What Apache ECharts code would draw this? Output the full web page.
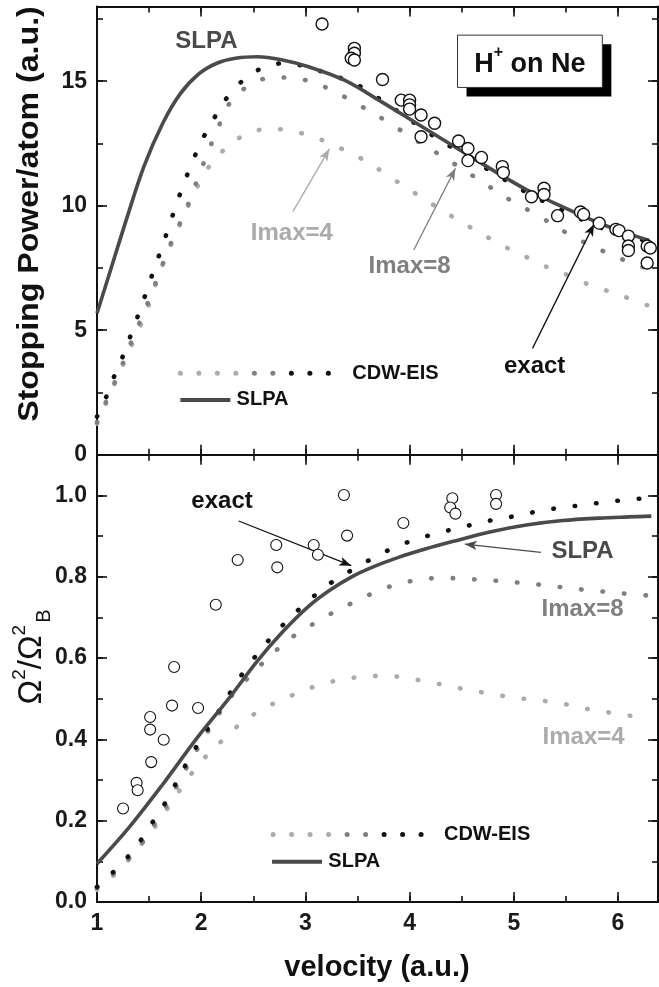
<!DOCTYPE html>
<html><head><meta charset="utf-8">
<script src="https://cdn.jsdelivr.net/npm/echarts@6/dist/echarts.min.js"></script>
<style>html,body{margin:0;padding:0;background:#fff}#c{width:659px;height:987px}</style>
</head><body><div id="c"></div>
<script>
// ---------- DATA (top panel: stopping power) ----------
const topSlpaV = [1.00,1.14,1.28,1.45,1.63,1.80,1.98,2.15,2.33,2.54,2.78,3.03,3.37,3.72,4.07,4.42,4.77,5.12,5.47,5.82,6.05,6.30];
const topSlpaS = [5.68,7.55,9.42,11.57,13.3,14.5,15.3,15.72,15.92,15.98,15.85,15.58,15.05,14.2,13.3,12.4,11.5,10.65,9.95,9.3,8.95,8.6];
const topExactV = [1.00,1.09,1.17,1.26,1.33,1.41,1.48,1.55,1.62,1.69,1.76,1.83,1.91,2.00,2.11,2.23,2.41,2.61,2.82,3.03,3.22,3.50,3.83,4.02,4.23,4.44,4.65,4.86,5.05,5.25,5.45,5.65,5.85,6.05,6.30];
const topExactS = [1.53,2.33,3.20,4.07,4.87,5.78,6.61,7.48,8.29,9.16,10.03,10.86,11.70,12.57,13.41,14.24,15.07,15.58,15.74,15.55,15.30,14.85,13.95,13.40,12.80,12.25,11.72,11.18,10.70,10.25,9.85,9.45,9.10,8.85,8.55];
const topL8V = [1.00,1.09,1.18,1.27,1.35,1.44,1.52,1.60,1.68,1.77,1.86,1.95,2.05,2.15,2.27,2.48,2.69,2.89,3.09,3.30,3.50,3.71,3.91,4.11,4.32,4.51,4.71,4.91,5.12,5.33,5.54,5.73,5.94,6.14,6.30];
const topL8S = [1.30,2.15,3.00,3.90,4.75,5.60,6.45,7.30,8.20,9.05,9.90,10.90,12.00,13.00,14.10,14.91,15.15,15.13,14.94,14.54,14.08,13.57,13.04,12.50,11.97,11.46,10.92,10.36,9.87,9.36,8.82,8.42,8.02,7.68,7.45];
const topL4V = [1.00,1.09,1.18,1.27,1.36,1.45,1.53,1.60,1.68,1.77,1.86,1.96,2.08,2.26,2.46,2.67,2.87,3.08,3.28,3.49,3.69,3.89,4.09,4.29,4.49,4.70,4.90,5.10,5.31,5.50,5.71,5.92,6.13,6.32];
const topL4S = [1.25,2.10,2.95,3.80,4.65,5.50,6.40,7.30,8.15,9.00,9.85,10.74,11.60,12.41,12.94,13.10,13.00,12.77,12.41,12.00,11.50,10.94,10.40,9.87,9.36,8.85,8.38,7.98,7.55,7.24,6.85,6.55,6.24,5.94];
const topExpV = [3.16,3.47,3.47,3.44,3.47,3.74,3.92,4.00,4.00,4.00,4.11,4.24,4.11,4.47,4.56,4.56,4.69,4.89,4.90,5.17,5.29,5.29,5.42,5.64,5.67,5.82,5.98,6.01,6.10,6.10,6.10,6.28,6.31,6.28];
const topExpS = [17.3,16.32,16.12,15.92,15.85,15.07,14.24,14.24,14.05,13.88,13.64,13.31,12.77,12.6,12.3,11.81,11.94,11.57,11.33,10.36,10.7,10.45,9.6,9.75,9.65,9.3,9.05,9.0,8.78,8.38,8.2,8.38,8.3,7.7];

// ---------- DATA (bottom panel: straggling ratio) ----------
const botSlpaV = [1.00,1.31,1.63,1.95,2.27,2.54,2.78,3.03,3.23,3.44,3.65,3.90,4.15,4.42,4.77,5.12,5.47,5.82,6.10,6.32];
const botSlpaR = [0.094,0.184,0.289,0.400,0.502,0.593,0.664,0.727,0.766,0.799,0.824,0.848,0.868,0.887,0.910,0.927,0.938,0.944,0.947,0.949];
const botExactV = [1.00,1.21,1.38,1.52,1.65,1.76,1.87,1.99,2.12,2.24,2.37,2.52,2.69,2.89,3.09,3.29,3.50,3.70,3.90,4.10,4.31,4.51,4.71,4.91,5.12,5.32,5.53,5.74,5.93,6.13,6.32];
const botExactR = [0.037,0.087,0.137,0.191,0.242,0.293,0.346,0.397,0.449,0.499,0.552,0.604,0.656,0.708,0.754,0.793,0.824,0.853,0.877,0.895,0.910,0.922,0.935,0.944,0.955,0.965,0.972,0.979,0.985,0.990,0.994];
const botL8V = [1.00,1.21,1.39,1.53,1.66,1.77,1.88,2.00,2.13,2.27,2.46,2.66,2.86,3.07,3.26,3.47,3.67,3.87,4.08,4.28,4.48,4.69,4.89,5.10,5.30,5.50,5.71,5.92,6.12,6.32];
const botL8R = [0.035,0.082,0.130,0.183,0.235,0.287,0.340,0.392,0.447,0.500,0.554,0.605,0.649,0.683,0.711,0.738,0.762,0.781,0.792,0.797,0.796,0.792,0.789,0.784,0.779,0.773,0.767,0.762,0.757,0.753];
const botL4V = [1.00,1.22,1.40,1.56,1.70,1.84,1.99,2.18,2.37,2.57,2.78,2.99,3.20,3.40,3.61,3.81,4.01,4.21,4.41,4.62,4.82,5.03,5.23,5.43,5.64,5.84,6.05,6.27];
const botL4R = [0.030,0.080,0.134,0.186,0.239,0.292,0.343,0.392,0.437,0.472,0.498,0.521,0.539,0.549,0.556,0.556,0.549,0.540,0.529,0.519,0.510,0.502,0.496,0.490,0.478,0.469,0.461,0.451];
const botExpV = [1.25,1.38,1.39,1.51,1.51,1.52,1.64,1.72,1.74,1.97,2.14,2.35,2.72,2.73,3.08,3.12,3.37,3.40,3.94,4.41,4.39,4.44,4.83,4.83];
const botExpR = [0.230,0.293,0.275,0.455,0.424,0.344,0.399,0.483,0.578,0.477,0.731,0.841,0.878,0.823,0.878,0.854,1.001,0.901,0.932,0.993,0.970,0.955,1.001,0.979];

// ---------- AXES ----------
const xTicks = {min: 1, max: 6.384, major: 1, minor: 0.5};
const yTopTicks = {min: 0, max: 18, major: 5, minor: 2.5};
const yBotTicks = {min: 0, max: 1.1, major: 0.2, minor: 0.1};

const FONT = '"Liberation Sans", Arial, sans-serif';
const C_BLACK = '#111111', C_L8 = '#7f7f7f', C_L4 = '#ababab', C_SLPA = '#4a4a4a';

const zip = (a, b) => a.map((v, i) => [v, b[i]]);

const grids = [
  {left: 97, top: 6.5, width: 561, height: 448.2},
  {left: 97, top: 454.7, width: 561, height: 447.3}
];

const lineSty = {color: C_BLACK, width: 2};
function mkAxis(g, pos, t, major, showLabel, fmt) {
  return {
    gridIndex: g, type: 'value', position: pos,
    min: t.min, max: t.max, interval: major ? t.major : t.minor,
    axisLine: {show: major, onZero: false, lineStyle: lineSty},
    axisTick: {show: true, inside: true, length: major ? 10 : 6, lineStyle: {color: C_BLACK, width: 1.6}},
    axisLabel: {show: !!showLabel, showMaxLabel: false, color: '#1a1a1a', fontFamily: FONT, fontWeight: 'bold', fontSize: 23, margin: 10, formatter: fmt},
    splitLine: {show: false}, minorTick: {show: false}, axisPointer: {show: false}, silent: true
  };
}
const xAxes = [], yAxes = [];
[0, 1].forEach(g => {
  const yt = g === 0 ? yTopTicks : yBotTicks;
  const yfmt = g === 0 ? (v => String(v)) : (v => v.toFixed(1));
  xAxes.push(mkAxis(g, 'bottom', xTicks, true, g === 1, v => String(v)));
  xAxes.push(mkAxis(g, 'bottom', xTicks, false));
  xAxes.push(mkAxis(g, 'top', xTicks, true));
  xAxes.push(mkAxis(g, 'top', xTicks, false));
  yAxes.push(mkAxis(g, 'left', yt, true, true, yfmt));
  yAxes.push(mkAxis(g, 'left', yt, false));
  yAxes.push(mkAxis(g, 'right', yt, true));
  yAxes.push(mkAxis(g, 'right', yt, false));
});

function dotted(name, g, data, color, z) {
  return {name, type: 'line', xAxisIndex: g * 4, yAxisIndex: g * 4, data, showSymbol: false, symbol: 'none',
    smooth: 0.25, silent: true, z,
    lineStyle: {color, width: 4.6, type: [0.5, 21], cap: 'round'}};
}
function solid(name, g, data) {
  return {name, type: 'line', xAxisIndex: g * 4, yAxisIndex: g * 4, data, showSymbol: false, symbol: 'none',
    smooth: 0.35, silent: true, z: 4, lineStyle: {color: C_SLPA, width: 3.6}};
}
function circles(name, g, data, size, bw) {
  return {name, type: 'scatter', xAxisIndex: g * 4, yAxisIndex: g * 4, data, symbol: 'circle', symbolSize: size,
    silent: true, z: 6, itemStyle: {color: '#fff', borderColor: C_BLACK, borderWidth: bw, opacity: 1}};
}
function arrows(g, list) {
  return {type: 'line', xAxisIndex: g * 4, yAxisIndex: g * 4, data: [], silent: true, z: 7,
    markLine: {silent: true, animation: false, symbol: ['none', 'arrow'], symbolSize: [7, 12],
      label: {show: false}, emphasis: {disabled: true},
      data: list.map(a => [{coord: a[0], lineStyle: {color: a[2], width: 1.3, type: 'solid'}}, {coord: a[1]}])}};
}

const chart = echarts.init(document.getElementById('c'), null, {renderer: 'canvas'});
chart.setOption({
  animation: false,
  backgroundColor: '#fff',
  grid: grids.map(g => Object.assign({containLabel: false, outerBoundsMode: 'none'}, g)),
  xAxis: xAxes, yAxis: yAxes,
  series: [
    dotted('Imax=4', 0, zip(topL4V, topL4S), C_L4, 2),
    dotted('Imax=8', 0, zip(topL8V, topL8S), C_L8, 2),
    dotted('exact', 0, zip(topExactV, topExactS), C_BLACK, 3),
    solid('SLPA', 0, zip(topSlpaV, topSlpaS)),
    circles('exp', 0, zip(topExpV, topExpS), 12, 1.4),
    arrows(0, [[[2.88, 9.76], [3.23, 12.28], C_L4], [[4.04, 8.22], [4.44, 11.5], C_L8], [[5.18, 4.27], [5.77, 9.26], C_BLACK]]),
    dotted('Imax=4 b', 1, zip(botL4V, botL4R), C_L4, 2),
    dotted('Imax=8 b', 1, zip(botL8V, botL8R), C_L8, 2),
    dotted('exact b', 1, zip(botExactV, botExactR), C_BLACK, 3),
    solid('SLPA b', 1, zip(botSlpaV, botSlpaR)),
    circles('exp b', 1, zip(botExpV, botExpR), 11, 1.1),
    arrows(1, [[[2.36, 0.937], [3.44, 0.827], C_BLACK], [[5.26, 0.860], [4.53, 0.880], C_SLPA]])
  ]
});

// ---------- ANNOTATIONS ----------
const P = (g, x, y) => chart.convertToPixel({gridIndex: g}, [x, y]);
function txt(g, x, y, text, color, size, align) {
  const p = P(g, x, y);
  return {type: 'text', x: p[0], y: p[1], z: 20, silent: true,
    style: {text, fill: color, font: 'bold ' + size + 'px ' + FONT, align: align || 'center', verticalAlign: 'middle',
      textAlign: align || 'center', textVerticalAlign: 'middle'}};
}
function legend(g, dotX, dotY, textX, lineX0, lineX1, lineY, slpaX) {
  const els = [];
  const p0 = P(g, dotX, dotY);
  const cols = [C_L4, C_L4, C_L4, C_L4, C_L8, C_L8, C_BLACK, C_BLACK, C_BLACK];
  cols.forEach((c, i) => els.push({type: 'circle', silent: true, z: 20, shape: {cx: p0[0] + i * 18.5, cy: p0[1], r: 2.5}, style: {fill: c}}));
  els.push(txt(g, textX, dotY, 'CDW-EIS', C_BLACK, 20, 'left'));
  const a = P(g, lineX0, lineY), b = P(g, lineX1, lineY);
  els.push({type: 'line', silent: true, z: 20, shape: {x1: a[0], y1: a[1], x2: b[0], y2: b[1]}, style: {stroke: C_SLPA, lineWidth: 4}});
  els.push(txt(g, slpaX, lineY, 'SLPA', C_BLACK, 20, 'left'));
  return els;
}
const b0 = P(0, 4.46, 16.85), b1 = P(0, 5.85, 14.75), bc = P(0, 5.155, 15.8);
const graphics = [
  txt(0, 2.05, 16.59, 'SLPA', C_SLPA, 24),
  {type: 'rect', silent: true, z: 18, shape: {x: b0[0] + 9, y: b0[1] + 9, width: b1[0] - b0[0], height: b1[1] - b0[1]}, style: {fill: '#000'}},
  {type: 'rect', silent: true, z: 19, shape: {x: b0[0], y: b0[1], width: b1[0] - b0[0], height: b1[1] - b0[1]}, style: {fill: '#fff', stroke: '#333', lineWidth: 1}},
  {type: 'text', x: bc[0], y: bc[1], z: 21, silent: true, style: {text: '{a|H}{s|+}{a| on Ne}', align: 'center', verticalAlign: 'middle', textAlign: 'center', textVerticalAlign: 'middle',
    rich: {a: {font: 'bold 27px ' + FONT, fill: '#111', lineHeight: 34, verticalAlign: 'bottom'}, s: {font: 'bold 16px ' + FONT, fill: '#111', lineHeight: 16, verticalAlign: 'top'}}}},
  txt(0, 2.87, 8.89, 'Imax=4', C_L4, 24),
  txt(0, 4.0, 7.55, 'Imax=8', C_L8, 24),
  txt(0, 5.20, 3.53, 'exact', C_BLACK, 24),
  ...legend(0, 1.80, 3.27, 3.45, 1.80, 2.28, 2.2, 2.34),
  txt(1, 2.20, 0.986, 'exact', C_BLACK, 24),
  txt(1, 5.66, 0.863, 'SLPA', C_SLPA, 24),
  txt(1, 5.66, 0.720, 'Imax=8', C_L8, 24),
  txt(1, 5.67, 0.405, 'Imax=4', C_L4, 24),
  ...legend(1, 2.69, 0.166, 4.33, 2.68, 3.16, 0.099, 3.22),
  // axis titles
  {type: 'text', x: 30, y: 214, rotation: Math.PI / 2, scaleX: 1.07, silent: true, z: 20,
    style: {text: 'Stopping Power/atom (a.u.)', fill: '#111', font: 'bold 30px ' + FONT, align: 'center', verticalAlign: 'middle', textAlign: 'center', textVerticalAlign: 'middle'}},
  {type: 'text', x: 32, y: 657, rotation: Math.PI / 2, silent: true, z: 20,
    style: {text: '{o|Ω}{s|2}{o|/Ω}{s|2}{b|B}', align: 'center', verticalAlign: 'middle', textAlign: 'center', textVerticalAlign: 'middle',
      rich: {o: {font: '33px ' + FONT, fill: '#111', lineHeight: 44, verticalAlign: 'middle'},
             s: {font: '19px ' + FONT, fill: '#111', lineHeight: 19, verticalAlign: 'top'},
             b: {font: '20px ' + FONT, fill: '#111', lineHeight: 20, verticalAlign: 'bottom', padding: [0, 0, 0, 2]}}}},
  {type: 'text', x: 377, y: 968, silent: true, z: 20,
    style: {text: 'velocity (a.u.)', fill: '#111', font: 'bold 29px ' + FONT, align: 'center', verticalAlign: 'middle', textAlign: 'center', textVerticalAlign: 'middle'}}
];
chart.setOption({graphic: {elements: graphics}});
</script>
</body></html>
